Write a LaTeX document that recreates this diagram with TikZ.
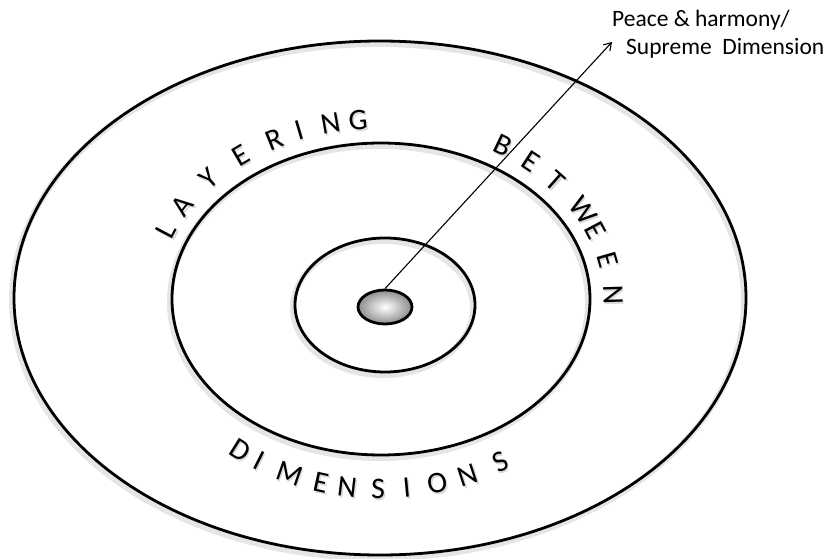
\documentclass[tikz,border=0pt]{standalone}
\usepackage{fontspec}
\setmainfont{Carlito}
\usetikzlibrary{arrows.meta,shapes.geometric}
\tikzset{
  ring/.style={line width=2.8pt},
  ringshadow/.style={line width=6pt, black, opacity=0.10},
  ringletter/.style={font=\fontsize{30}{30}\selectfont, inner sep=0pt},
  lettershadow/.style={ringletter, text=black, opacity=0.15},
  labeltext/.style={anchor=base west, font=\fontsize{23.5}{24}\selectfont, inner sep=0pt},
}
\begin{document}
\begin{tikzpicture}[x=1pt,y=1pt]
  \useasboundingbox (0,0) rectangle (825,558);
  % soft shadows of the rings
  \draw[ringshadow] (378,257) ellipse [x radius=366pt, y radius=257pt];
  \draw[ringshadow] (379,256) ellipse [x radius=209pt, y radius=156pt];
  \draw[ringshadow] (383,250) ellipse [x radius=90pt, y radius=67pt];
  % rings
  \draw[ring] (380,260) ellipse [x radius=366pt, y radius=257pt];
  \draw[ring] (381,259) ellipse [x radius=209pt, y radius=156pt];
  \draw[ring] (385,253) ellipse [x radius=90pt, y radius=67pt];
  \node[draw, ring, ellipse, minimum width=54pt, minimum height=34pt, inner sep=0pt,
        shade, inner color=white, outer color=black!45] (core) at (385,251) {};
  % arrow and its label
  \coordinate (tip) at (612,516);
  \draw[line width=1.1pt, -{Straight Barb[length=7pt,width=9pt]}] (core.north) -- (tip);
  \node[labeltext] (peace) at (612,531) {Peace \& harmony/};
  \node[labeltext] (supreme) at (626,503) {Supreme\ \ Dimension};
  % letters above, clockwise
  \foreach \t/\l [count=\i] in {157.7/L,148.8/A,138.1/Y,127.2/E,117.4/R,110.7/I,102.6/N,95.7/G,
                                58.4/B,49.9/E,41.1/T,29.6/W,22.3/E,12.5/E,1.3/N} {
    \pgfmathsetmacro{\rot}{atan2(-180*cos(\t), 232*sin(\t))}
    \node[lettershadow, rotate=\rot] (top\i s) at ({382.5+232*cos(\t)}, {257+180*sin(\t)}) {\l};
    \node[ringletter, rotate=\rot] (top\i) at ({381+232*cos(\t)}, {259+180*sin(\t)}) {\l};
  }
  % letters below, anticlockwise
  \foreach \t/\l [count=\i] in {232.6/D,238.3/I,246.8/M,255/E,261.6/N,269.3/S,276.4/I,284/O,292/N,300.9/S} {
    \pgfmathsetmacro{\rot}{atan2(190*cos(\t), -232*sin(\t))}
    \node[lettershadow, rotate=\rot] (bot\i s) at ({382.5+232*cos(\t)}, {257+190*sin(\t)}) {\l};
    \node[ringletter, rotate=\rot] (bot\i) at ({381+232*cos(\t)}, {259+190*sin(\t)}) {\l};
  }
\end{tikzpicture}
\end{document}
